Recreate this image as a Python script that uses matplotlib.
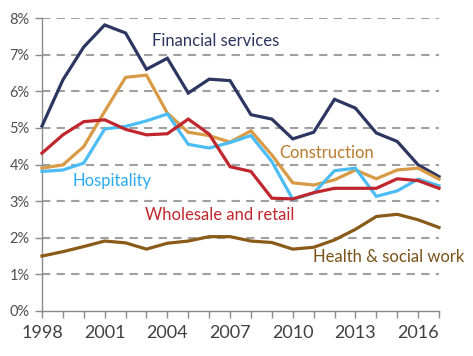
import matplotlib
matplotlib.use("Agg")
import matplotlib.pyplot as plt

years = list(range(1998, 2018))
financial = [5.05, 6.31, 7.21, 7.81, 7.59, 6.60, 6.90, 5.95, 6.33, 6.29, 5.36, 5.24, 4.70, 4.88, 5.78, 5.54, 4.86, 4.63, 3.99, 3.67]
construction = [3.90, 3.99, 4.49, 5.45, 6.38, 6.44, 5.40, 4.88, 4.79, 4.61, 4.92, 4.26, 3.50, 3.44, 3.58, 3.85, 3.61, 3.85, 3.90, 3.60]
hospitality = [3.81, 3.85, 4.04, 4.97, 5.04, 5.19, 5.38, 4.55, 4.45, 4.60, 4.79, 4.08, 3.05, 3.22, 3.83, 3.90, 3.13, 3.28, 3.60, 3.42]
wholesale = [4.31, 4.81, 5.17, 5.22, 4.96, 4.81, 4.84, 5.24, 4.83, 3.94, 3.81, 3.08, 3.06, 3.23, 3.35, 3.35, 3.35, 3.61, 3.56, 3.35]
health = [1.50, 1.62, 1.76, 1.91, 1.86, 1.69, 1.85, 1.91, 2.03, 2.03, 1.91, 1.87, 1.69, 1.74, 1.94, 2.23, 2.58, 2.64, 2.49, 2.28]
series_names = ["Financial services", "Construction", "Hospitality", "Wholesale and retail", "Health & social work"]
yticks = [0, 1, 2, 3, 4, 5, 6, 7, 8]
xtick_labels = [1998, 2001, 2004, 2007, 2010, 2013, 2016]

plt.rcParams['font.family'] = ['Lato', 'DejaVu Sans']

fig = plt.figure(figsize=(4.73, 3.56), dpi=100)
ax = fig.add_axes([42/473, 1 - 311/356, (439-42)/473, (311-18)/356])

colors = ["#2D3561", "#D99A45", "#4CBDF4", "#C0262D", "#8A5A19"]
text_colors = ["#2D3561", "#B97A2C", "#2AAAF0", "#C0262D", "#7A5118"]
data = [financial, construction, hospitality, wholesale, health]
for vals, c in zip(data, colors):
    ax.plot(years, vals, color=c, lw=2.3, solid_joinstyle='miter', zorder=3, clip_on=False)

for y in yticks[1:]:
    ax.axhline(y, color="#A0A0A0", lw=1.5, dashes=(4, 3), zorder=1)

ax.set_xlim(1998, 2017)
ax.set_ylim(0, 8)
ax.set_yticks(yticks)
ax.set_yticklabels([f"{v}%" for v in yticks])
ax.set_xticks(years)
ax.set_xticklabels([str(y) if y in xtick_labels else "" for y in years])

for s in ["top", "right"]:
    ax.spines[s].set_visible(False)
for s in ["left", "bottom"]:
    ax.spines[s].set_color("#8C8C8C")
    ax.spines[s].set_linewidth(1.0)

ax.tick_params(axis='x', direction='out', length=5, width=1.0, color="#8C8C8C",
               labelsize=13, labelcolor="#404040", pad=5)
ax.tick_params(axis='y', direction='out', length=5, width=1.0, color="#8C8C8C",
               labelsize=10.5, labelcolor="#505050", pad=4)

label_pos = [(2003.26, 7.38), (2009.34, 4.32), (1999.44, 3.55), (2002.93, 2.62), (2010.97, 1.48)]
for name, (x, y), c in zip(series_names, label_pos, text_colors):
    ax.text(x, y, name, color=c, fontsize=12, ha='left', va='center', zorder=4)

fig.savefig("out.png", dpi=100)
